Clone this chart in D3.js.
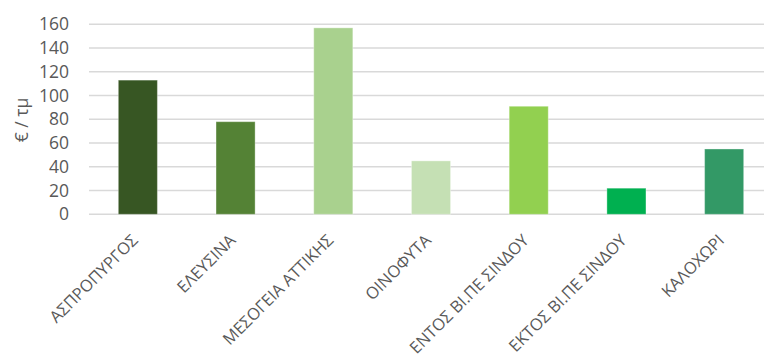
<!DOCTYPE html>
<html>
<head>
<meta charset="utf-8">
<script src="https://cdn.jsdelivr.net/npm/d3@7"></script>
<style>
  html, body { margin: 0; padding: 0; background: #fff; }
  svg { display: block; }
  text { font-family: "Open Sans", "Noto Sans", sans-serif; fill: #595959; }
</style>
</head>
<body>
<svg id="chart" width="764" height="361"></svg>
<script>
const categories = ["ΑΣΠΡΟΠΥΡΓΟΣ", "ΕΛΕΥΣΙΝΑ", "ΜΕΣΟΓΕΙΑ ΑΤΤΙΚΗΣ", "ΟΙΝΟΦΥΤΑ", "ΕΝΤΟΣ ΒΙ.ΠΕ ΣΙΝΔΟΥ", "ΕΚΤΟΣ ΒΙ.ΠΕ ΣΙΝΔΟΥ", "ΚΑΛΟΧΩΡΙ"];
const values = [113, 78, 157, 45, 91, 22, 55];
const barColors = ["#375623", "#548235", "#A9D18E", "#C5E0B4", "#92D050", "#00B050", "#339966"];
const yTicks = [0, 20, 40, 60, 80, 100, 120, 140, 160];
const yLabel = "€ / τμ";

const svg = d3.select("#chart");
const x = d3.scaleBand().domain(categories).range([89, 773]).paddingInner(0.6).paddingOuter(0.3);
const y = d3.scaleLinear().domain([0, 160]).range([214.3, 24.3]);

// gridlines
svg.append("g").selectAll("line").data(yTicks).join("line")
  .attr("x1", 89).attr("x2", 764)
  .attr("y1", d => y(d)).attr("y2", d => y(d))
  .attr("stroke", "#d9d9d9").attr("stroke-width", 1.4);

// y axis labels
const yAxis = d3.axisLeft(y).tickValues(yTicks).tickSize(0).tickPadding(0);
const ya = svg.append("g").attr("transform", "translate(69,0)").call(yAxis);
ya.select(".domain").remove();
ya.selectAll("text").attr("font-size", 17.5).attr("fill", "#595959")
  .style("font-family", '"Open Sans", "Noto Sans", sans-serif');

// bars
svg.append("g").selectAll("rect").data(values).join("rect")
  .attr("x", (d, i) => x(categories[i]))
  .attr("width", x.bandwidth())
  .attr("y", d => y(d))
  .attr("height", d => y(0) - y(d))
  .attr("fill", (d, i) => barColors[i])
  .attr("stroke", "#ffffff").attr("stroke-opacity", 0.35).attr("stroke-width", 1);

// x labels
const xAxis = d3.axisBottom(x).tickSize(0).tickPadding(0);
const xa = svg.append("g").attr("transform", "translate(0,214.3)").call(xAxis);
xa.select(".domain").remove();
xa.selectAll("text")
  .attr("font-size", 16.5)
  .attr("fill", "#595959")
  .style("font-family", '"Open Sans", "Noto Sans", sans-serif')
  .attr("text-anchor", "end")
  .attr("dy", "0.35em").attr("y", 0)
  .attr("transform", "translate(-3,23) rotate(-45)");

// y title
svg.append("text")
  .attr("transform", "translate(22,120) rotate(-90)")
  .attr("text-anchor", "middle").attr("dy", "0.35em")
  .attr("font-size", 17.5)
  .text(yLabel);
</script>
</body>
</html>
